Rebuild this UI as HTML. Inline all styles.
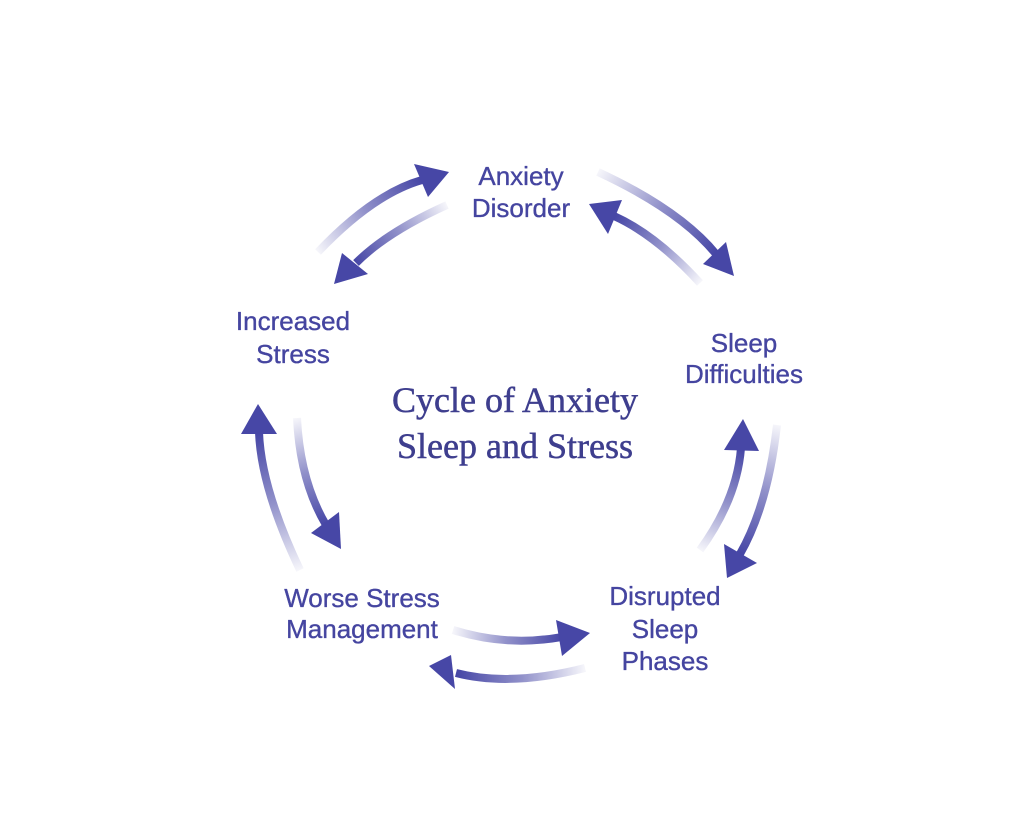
<!DOCTYPE html>
<html>
<head>
<meta charset="utf-8">
<style>
  html,body{margin:0;padding:0;background:#ffffff;}
  svg{display:block;}
  .lbl{font-family:"Liberation Sans",Arial,sans-serif;font-size:26px;fill:#4545a0;stroke:#4545a0;stroke-width:0.35;text-anchor:middle;}
  .ttl{font-family:"Liberation Serif","Times New Roman",serif;font-size:36px;fill:#3e3e8e;stroke:#3e3e8e;stroke-width:0.5;text-anchor:middle;}
</style>
</head>
<body>
<svg width="1029" height="833" viewBox="0 0 1029 833" xmlns="http://www.w3.org/2000/svg">
  <defs>
    <linearGradient id="g1" gradientUnits="userSpaceOnUse" x1="318" y1="252" x2="421" y2="180">
      <stop offset="0" stop-color="#4747a6" stop-opacity="0.05"/><stop offset="0.5" stop-color="#4747a6" stop-opacity="0.6"/><stop offset="1" stop-color="#4747a6" stop-opacity="1"/>
    </linearGradient>
    <linearGradient id="g2" gradientUnits="userSpaceOnUse" x1="447" y1="205" x2="355" y2="263">
      <stop offset="0" stop-color="#4747a6" stop-opacity="0.05"/><stop offset="0.5" stop-color="#4747a6" stop-opacity="0.6"/><stop offset="1" stop-color="#4747a6" stop-opacity="1"/>
    </linearGradient>
    <linearGradient id="g3" gradientUnits="userSpaceOnUse" x1="598" y1="172" x2="715" y2="253">
      <stop offset="0" stop-color="#4747a6" stop-opacity="0.05"/><stop offset="0.5" stop-color="#4747a6" stop-opacity="0.6"/><stop offset="1" stop-color="#4747a6" stop-opacity="1"/>
    </linearGradient>
    <linearGradient id="g4" gradientUnits="userSpaceOnUse" x1="700" y1="283" x2="615" y2="217">
      <stop offset="0" stop-color="#4747a6" stop-opacity="0.05"/><stop offset="0.5" stop-color="#4747a6" stop-opacity="0.6"/><stop offset="1" stop-color="#4747a6" stop-opacity="1"/>
    </linearGradient>
    <linearGradient id="g5" gradientUnits="userSpaceOnUse" x1="700" y1="550" x2="741" y2="449">
      <stop offset="0" stop-color="#4747a6" stop-opacity="0.05"/><stop offset="0.5" stop-color="#4747a6" stop-opacity="0.6"/><stop offset="1" stop-color="#4747a6" stop-opacity="1"/>
    </linearGradient>
    <linearGradient id="g6" gradientUnits="userSpaceOnUse" x1="777" y1="425" x2="741" y2="553">
      <stop offset="0" stop-color="#4747a6" stop-opacity="0.05"/><stop offset="0.5" stop-color="#4747a6" stop-opacity="0.6"/><stop offset="1" stop-color="#4747a6" stop-opacity="1"/>
    </linearGradient>
    <linearGradient id="g7" gradientUnits="userSpaceOnUse" x1="300" y1="570" x2="259" y2="433">
      <stop offset="0" stop-color="#4747a6" stop-opacity="0.05"/><stop offset="0.5" stop-color="#4747a6" stop-opacity="0.6"/><stop offset="1" stop-color="#4747a6" stop-opacity="1"/>
    </linearGradient>
    <linearGradient id="g8" gradientUnits="userSpaceOnUse" x1="297" y1="418" x2="326" y2="524">
      <stop offset="0" stop-color="#4747a6" stop-opacity="0.05"/><stop offset="0.5" stop-color="#4747a6" stop-opacity="0.6"/><stop offset="1" stop-color="#4747a6" stop-opacity="1"/>
    </linearGradient>
    <linearGradient id="g9" gradientUnits="userSpaceOnUse" x1="453" y1="630" x2="561" y2="638">
      <stop offset="0" stop-color="#4747a6" stop-opacity="0.05"/><stop offset="0.5" stop-color="#4747a6" stop-opacity="0.6"/><stop offset="1" stop-color="#4747a6" stop-opacity="1"/>
    </linearGradient>
    <linearGradient id="g10" gradientUnits="userSpaceOnUse" x1="585" y1="668" x2="457" y2="673">
      <stop offset="0" stop-color="#4747a6" stop-opacity="0.05"/><stop offset="0.5" stop-color="#4747a6" stop-opacity="0.6"/><stop offset="1" stop-color="#4747a6" stop-opacity="1"/>
    </linearGradient>
  </defs>

  <g fill="none" stroke-width="8" stroke-linecap="butt">
    <path d="M318,252 Q373,194 422,180" stroke="url(#g1)"/>
    <path d="M447,205 Q387,232 356,263" stroke="url(#g2)"/>
    <path d="M598,172 Q680,210 716,254" stroke="url(#g3)"/>
    <path d="M700,283 Q656,235 614,216" stroke="url(#g4)"/>
    <path d="M700,550 Q737,499 741,448" stroke="url(#g5)"/>
    <path d="M777,425 Q768,505 740,554" stroke="url(#g6)"/>
    <path d="M300,570 Q261,488 259,432" stroke="url(#g7)"/>
    <path d="M297,418 Q300,481 326,525" stroke="url(#g8)"/>
    <path d="M453,630 Q507,647 562,637" stroke="url(#g9)"/>
    <path d="M585,668 Q510,687 456,673" stroke="url(#g10)"/>
  </g>

  <g fill="#4747a6">
    <polygon points="449,172 414,164 428,197"/>
    <polygon points="334,284 342,253 368,274"/>
    <polygon points="734,276 726,242 703,264"/>
    <polygon points="589,204 622,200 608,234"/>
    <polygon points="743,419 724,450 759,451"/>
    <polygon points="727,578 724,544 757,563"/>
    <polygon points="258,404 241,434 277,434"/>
    <polygon points="341,549 311,533 339,512"/>
    <polygon points="590,633 556,620 562,656"/>
    <polygon points="429,666 451,655 455,689"/>
  </g>

  <text class="lbl" x="521" y="185">Anxiety</text>
  <text class="lbl" x="521" y="217">Disorder</text>

  <text class="lbl" x="293" y="330">Increased</text>
  <text class="lbl" x="293" y="363">Stress</text>

  <text class="lbl" x="744" y="352">Sleep</text>
  <text class="lbl" x="744" y="383">Difficulties</text>

  <text class="lbl" x="362" y="607">Worse Stress</text>
  <text class="lbl" x="362" y="638">Management</text>

  <text class="lbl" x="665" y="605">Disrupted</text>
  <text class="lbl" x="665" y="638">Sleep</text>
  <text class="lbl" x="665" y="670">Phases</text>

  <text class="ttl" x="515" y="412">Cycle of Anxiety</text>
  <text class="ttl" x="515" y="458">Sleep and Stress</text>
</svg>
</body>
</html>
